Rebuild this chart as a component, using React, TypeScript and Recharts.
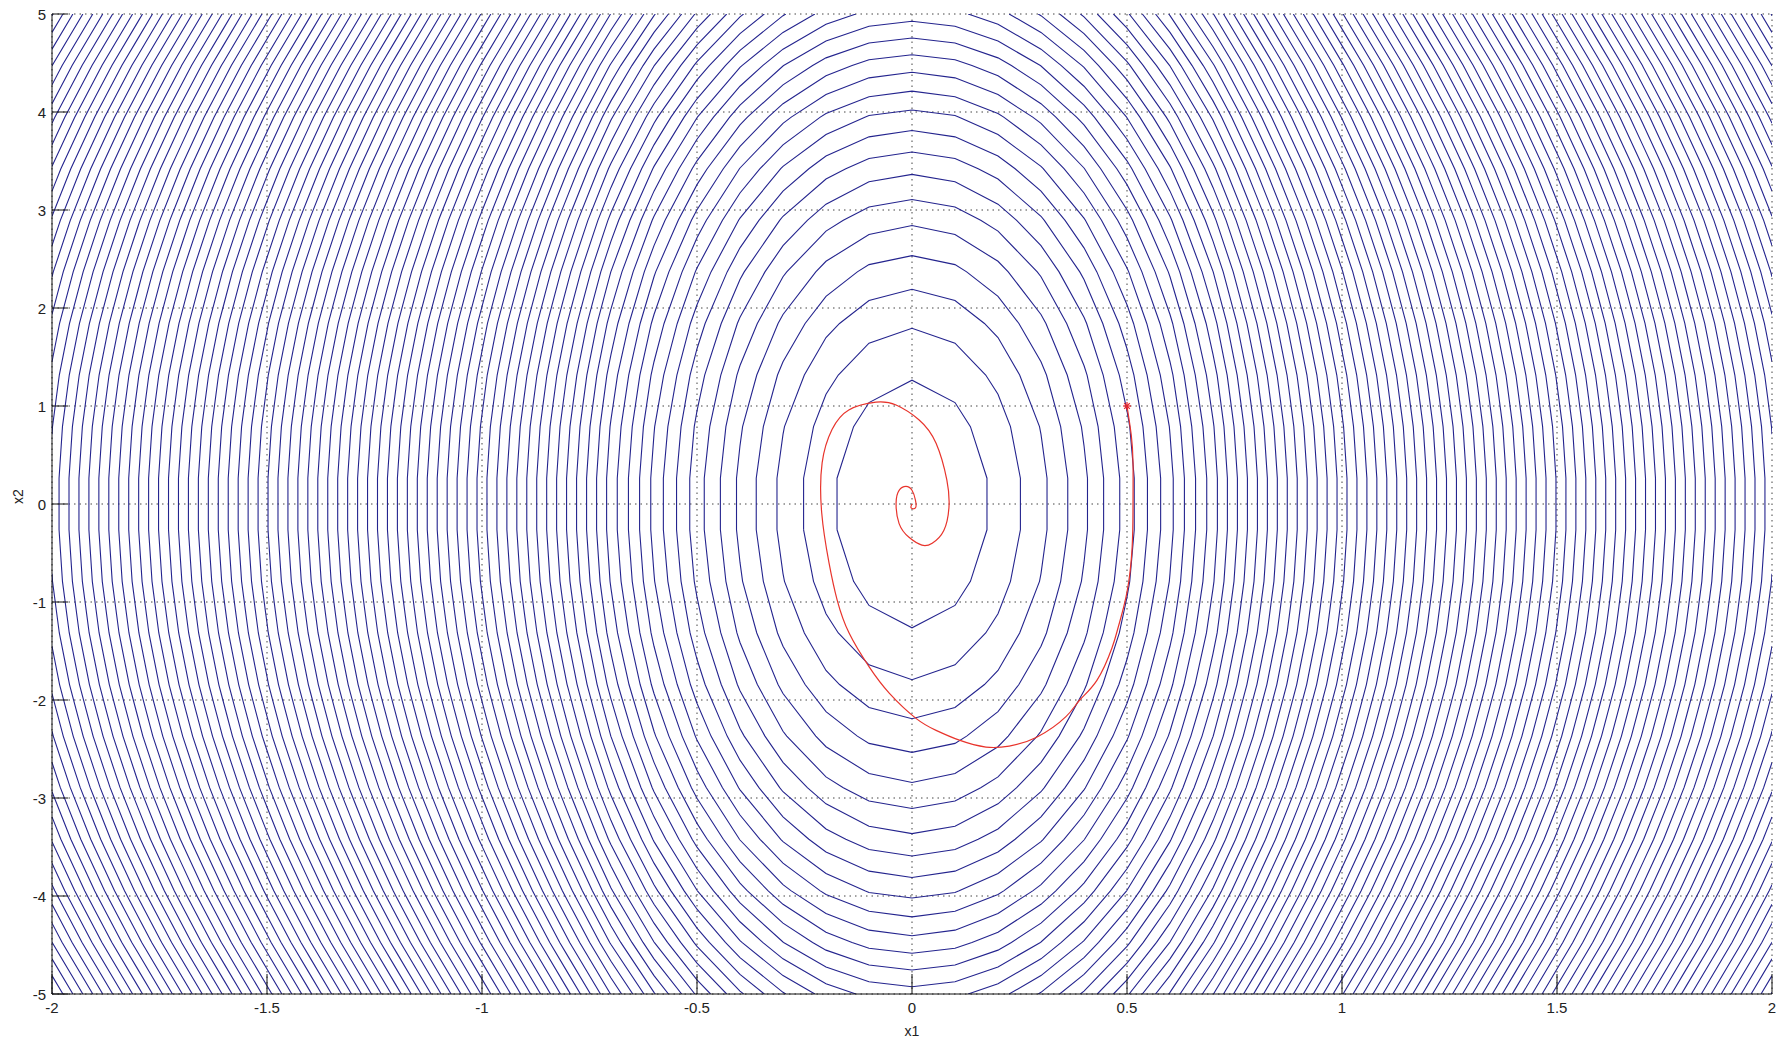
import React from "react";
import { ComposedChart, Line, Scatter, XAxis, YAxis, CartesianGrid } from "recharts";

// axes
const X1_TICKS = [-2, -1.5, -1, -0.5, 0, 0.5, 1, 1.5, 2];
const X2_TICKS = [-5, -4, -3, -2, -1, 0, 1, 2, 3, 4, 5];

// contour surface V = f(x1) + x2^2, sampled on the coarse meshgrid seen in the plot
const MESH_X1_COUNT = 41;
const MESH_X2_COUNT = 20;
const X1_GAIN = 48; // curvature along x1 near the origin
const X1_SLOPE = 70; // slope of V along x1 far from the origin
const LEVEL_STEP = 1.62;

// red trajectory (start at the star)
const TRAJ_X1 = [
  0.5, 0.51, 0.514, 0.514, 0.512, 0.5, 0.48, 0.465, 0.43, 0.39, 0.358, 0.29, 0.226, 0.172,
  0.11, 0.056, 0.01, -0.053, -0.1, -0.146, -0.174, -0.193, -0.21, -0.209, -0.186, -0.147,
  -0.084, -0.037, 0.016, 0.056, 0.081, 0.086, 0.074, 0.047, 0.023, -0.007, -0.03, -0.037,
  -0.03, -0.014, 0, 0.008, 0.008, -0.002, 0,
];
const TRAJ_X2 = [
  1.0, 0.7, 0.42, 0.0, -0.44, -0.9, -1.25, -1.47, -1.8, -2.0, -2.17, -2.38, -2.47, -2.48,
  -2.41, -2.31, -2.19, -1.93, -1.66, -1.32, -0.98, -0.6, -0.09, 0.42, 0.76, 0.96, 1.04,
  1.01, 0.86, 0.62, 0.245, -0.03, -0.27, -0.4, -0.42, -0.34, -0.2, 0.01, 0.14, 0.18, 0.14,
  0.04, -0.04, -0.04, 0,
];
const START = [{ x1: 0.5, x2: 1.0 }];

const X1_MIN = -2, X1_MAX = 2, X2_MIN = -5, X2_MAX = 5;

function surface(x1: number, x2: number) {
  const a = Math.abs(x1);
  const knee = X1_SLOPE / (2 * X1_GAIN);
  const f = a <= knee ? X1_GAIN * a * a : X1_GAIN * knee * knee + X1_SLOPE * (a - knee);
  return f + x2 * x2;
}

type Pt = { x1: number; x2: number | null; side?: string | null; ang?: number };

function buildContours() {
  const gx: number[] = [];
  const gy: number[] = [];
  for (let i = 0; i < MESH_X1_COUNT; i++) gx.push(X1_MIN + ((X1_MAX - X1_MIN) * i) / (MESH_X1_COUNT - 1));
  for (let j = 0; j < MESH_X2_COUNT; j++) gy.push(X2_MIN + ((X2_MAX - X2_MIN) * j) / (MESH_X2_COUNT - 1));
  const v = gx.map((x) => gy.map((y) => surface(x, y)));
  let vmax = 0;
  v.forEach((col) => col.forEach((z) => (vmax = Math.max(vmax, z))));

  const out: Pt[][] = [];
  for (let k = 1; k * LEVEL_STEP < vmax; k++) {
    const L = k * LEVEL_STEP;
    const pts: Pt[] = [];
    // crossings on horizontal mesh edges
    for (let j = 0; j < gy.length; j++) {
      for (let i = 0; i < gx.length - 1; i++) {
        const a = v[i][j], b = v[i + 1][j];
        if ((a - L) * (b - L) < 0) {
          const t = (L - a) / (b - a);
          pts.push({ x1: gx[i] + t * (gx[i + 1] - gx[i]), x2: gy[j], side: j === 0 ? "B" : j === gy.length - 1 ? "T" : null });
        }
      }
    }
    // crossings on vertical mesh edges
    for (let i = 0; i < gx.length; i++) {
      for (let j = 0; j < gy.length - 1; j++) {
        const a = v[i][j], b = v[i][j + 1];
        if ((a - L) * (b - L) < 0) {
          const t = (L - a) / (b - a);
          pts.push({ x1: gx[i], x2: gy[j] + t * (gy[j + 1] - gy[j]), side: i === 0 ? "L" : i === gx.length - 1 ? "R" : null });
        }
      }
    }
    if (pts.length < 2) continue;
    pts.forEach((p) => (p.ang = Math.atan2((p.x2 as number) / 5, p.x1 / 2)));
    pts.sort((p, q) => (p.ang as number) - (q.ang as number));
    const n = pts.length;
    const brk = (i: number) => {
      const p = pts[i], q = pts[(i + 1) % n];
      return p.side != null && p.side === q.side;
    };
    let start = -1;
    for (let i = 0; i < n; i++) if (brk(i)) { start = (i + 1) % n; break; }
    const line: Pt[] = [];
    if (start < 0) {
      pts.forEach((p) => line.push({ x1: p.x1, x2: p.x2 }));
      line.push({ x1: pts[0].x1, x2: pts[0].x2 });
    } else {
      for (let s = 0; s < n; s++) {
        const i = (start + s) % n;
        line.push({ x1: pts[i].x1, x2: pts[i].x2 });
        if (s < n - 1 && brk(i)) line.push({ x1: pts[i].x1, x2: null });
      }
    }
    out.push(line);
  }
  return out;
}

const contours = buildContours();
const trajectory = TRAJ_X1.map((x1, i) => ({ x1, x2: TRAJ_X2[i] }));

const TICK_FONT = "'Liberation Sans', Arial, sans-serif";

const XTick = (props: any) => {
  const { x, y, payload } = props;
  const axisY = y - 8;
  return (
    <g>
      <line x1={x} x2={x} y1={axisY} y2={axisY - 20} stroke="#111" strokeWidth={1} />
      <text x={x} y={axisY + 19} textAnchor="middle" fontSize={15} fontFamily={TICK_FONT} fill="#222">
        {payload.value}
      </text>
    </g>
  );
};

const YTick = (props: any) => {
  const { x, y, payload } = props;
  const axisX = x + 6;
  return (
    <g>
      <line x1={axisX} x2={axisX + 16} y1={y} y2={y} stroke="#111" strokeWidth={1} />
      <text x={axisX - 6} y={y + 5.5} textAnchor="end" fontSize={15} fontFamily={TICK_FONT} fill="#222">
        {payload.value}
      </text>
    </g>
  );
};

const Star = (props: any) => {
  const { cx, cy } = props;
  const r = 4;
  return (
    <g stroke="#e8242a" strokeWidth={1.2}>
      <line x1={cx - r} x2={cx + r} y1={cy} y2={cy} />
      <line x1={cx} x2={cx} y1={cy - r} y2={cy + r} />
      <line x1={cx - r * 0.7} x2={cx + r * 0.7} y1={cy - r * 0.7} y2={cy + r * 0.7} />
      <line x1={cx - r * 0.7} x2={cx + r * 0.7} y1={cy + r * 0.7} y2={cy - r * 0.7} />
    </g>
  );
};

export default function App() {
  return (
    <div style={{ width: 1791, height: 1040, background: "#fff" }}>
      <style>{`body{margin:0}`}</style>
      <ComposedChart
        width={1791}
        height={1040}
        margin={{ top: 14, right: 19, bottom: 6, left: 12 }}
      >
        <CartesianGrid stroke="#444" strokeDasharray="1.5 4" />
        <XAxis
          type="number"
          dataKey="x1"
          domain={[X1_MIN, X1_MAX]}
          ticks={X1_TICKS}
          interval={0}
          allowDataOverflow
          height={40}
          tickSize={0}
          tickMargin={8}
          tickLine={false}
          axisLine={{ stroke: "#111" }}
          tick={XTick}
          label={{ value: "x1", position: "insideBottom", offset: -2, fontSize: 14, fontFamily: TICK_FONT, fill: "#222" }}
        />
        <YAxis
          type="number"
          dataKey="x2"
          domain={[X2_MIN, X2_MAX]}
          ticks={X2_TICKS}
          interval={0}
          allowDataOverflow
          width={40}
          tickSize={0}
          tickMargin={6}
          tickLine={false}
          axisLine={{ stroke: "#111" }}
          tick={YTick}
          label={{ value: "x2", angle: -90, position: "insideLeft", offset: 6, fontSize: 14, fontFamily: TICK_FONT, fill: "#222" }}
        />
        {contours.map((c, i) => (
          <Line
            key={i}
            data={c}
            dataKey="x2"
            type="linear"
            stroke="#24248e"
            strokeWidth={1.1}
            dot={false}
            activeDot={false}
            connectNulls={false}
            isAnimationActive={false}
          />
        ))}
        <Line
          data={trajectory}
          dataKey="x2"
          type="natural"
          stroke="#e8342c"
          strokeWidth={1.2}
          dot={false}
          activeDot={false}
          isAnimationActive={false}
        />
        <Scatter data={START} dataKey="x2" shape={Star} isAnimationActive={false} />
      </ComposedChart>
    </div>
  );
}
